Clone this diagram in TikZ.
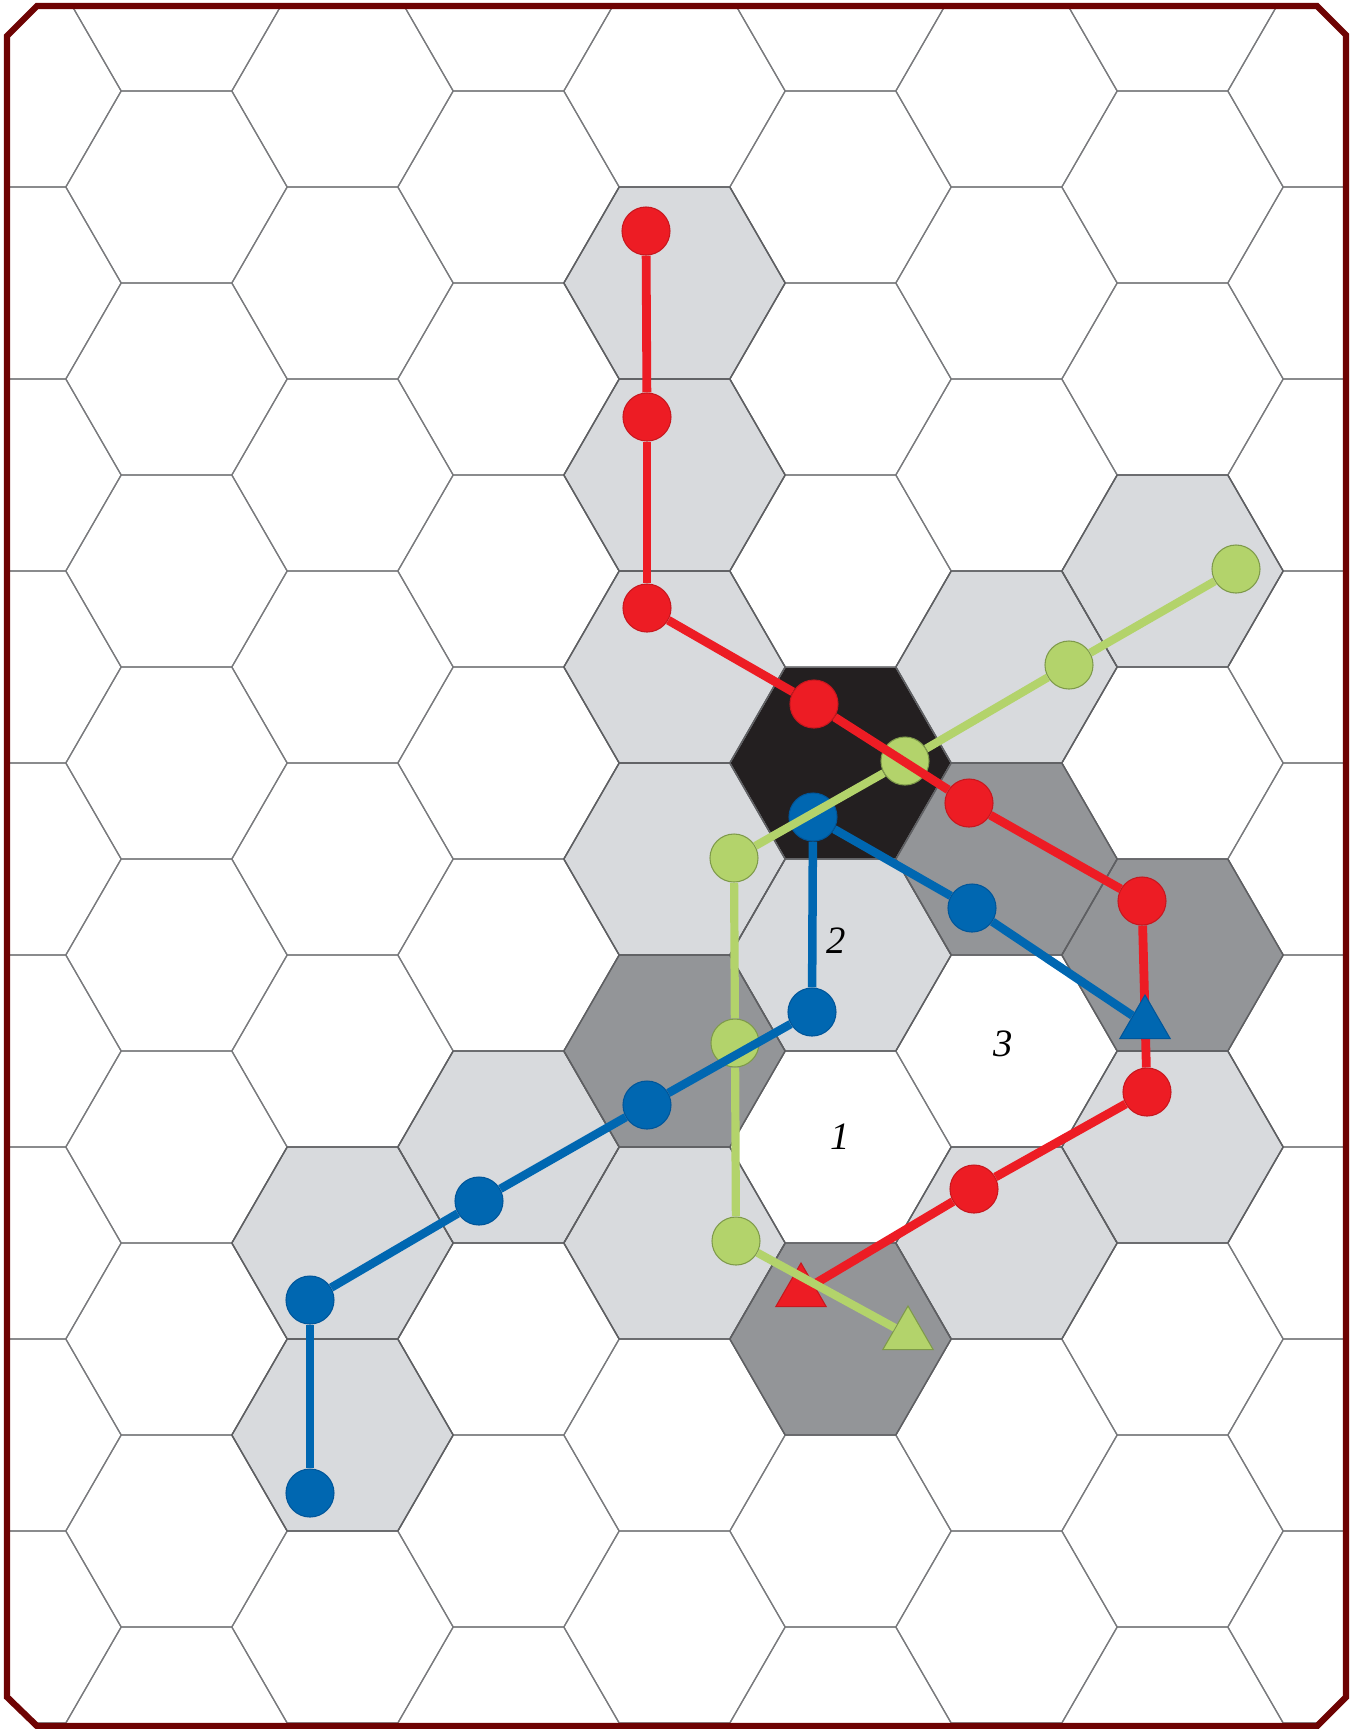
\documentclass[tikz,border=0pt]{standalone}
\usepackage{fontspec}
\setmainfont{Liberation Serif}
\usetikzlibrary{shapes.geometric}
\definecolor{pred}{HTML}{ED1C24}
\definecolor{predd}{HTML}{C8171E}
\definecolor{pblue}{HTML}{0067B1}
\definecolor{pblued}{HTML}{00569A}
\definecolor{pgreen}{HTML}{B3D36B}
\definecolor{pgreend}{HTML}{7E9A4A}
\definecolor{lgray}{HTML}{D8DADD}
\definecolor{dgray}{HTML}{939598}
\definecolor{hblack}{HTML}{231F20}
\definecolor{maroon}{HTML}{6E0303}
\definecolor{gridc}{HTML}{7A7B7E}
\definecolor{gridd}{HTML}{5E5F62}
\pgfdeclarelayer{grid}
\pgfdeclarelayer{behind}
\pgfsetlayers{grid,behind,main}
\newcommand{\hexcell}[3][]{%
  \pgfmathsetmacro\hexX{840.5+166*(#2)}%
  \pgfmathsetmacro\hexY{763+192*(#3)+96*mod(abs(#2),2)}%
  \path[#1] (\hexX+110.67,\hexY) -- (\hexX+55.33,\hexY+96) -- (\hexX-55.33,\hexY+96)
    -- (\hexX-110.67,\hexY) -- (\hexX-55.33,\hexY-96) -- (\hexX+55.33,\hexY-96) -- cycle;}
\tikzset{
  gridline/.style={draw=gridc, line width=0.35pt},
  lightcell/.style={fill=lgray},
  darkcell/.style={fill=dgray},
  blackcell/.style={fill=hblack},
  celledge/.style={draw=gridd, line width=0.4pt},
  framebox/.style={draw=maroon, line width=1.8pt, line join=miter},
  dot/.style={circle, inner sep=0pt, minimum size=0.48cm, line width=0.3pt},
  reddot/.style={dot, fill=pred, draw=predd},
  bluedot/.style={dot, fill=pblue, draw=pblued},
  greendot/.style={dot, fill=pgreen, draw=pgreend},
  tri/.style={regular polygon, regular polygon sides=3, inner sep=0pt, minimum size=0.58cm, line width=0.3pt},
  redline/.style={draw=pred, line width=0.088cm},
  blueline/.style={draw=pblue, line width=0.085cm},
  greenline/.style={draw=pgreen, line width=0.082cm},
  lbl/.style={font=\fontsize{11}{13}\selectfont\itshape, text=black, inner sep=0pt}
}
\begin{document}
\begin{tikzpicture}[x=0.01cm,y=-0.01cm]
\useasboundingbox (0,0) rectangle (1354,1729);
\begin{pgfonlayer}{grid}
\fill[white] (0,0) rectangle (1354,1729);
\begin{scope}
\clip (7,36) -- (37,6) -- (1317,6) -- (1346,35) -- (1346,1697) -- (1317,1726) -- (37,1726) -- (7,1697) -- cycle;
% shaded cells
\foreach \k/\m in {-1/-3,-1/-2,-1/-1,-1/0,-1/2,0/1,1/-1,1/2,2/-1,2/2,-2/2,-3/2,-3/3} {\hexcell[lightcell]{\k}{\m}}
\foreach \k/\m in {-1/1,0/3,1/0,2/1} {\hexcell[darkcell]{\k}{\m}}
\hexcell[blackcell]{0}{0}
% grid
\foreach \k in {-5,...,3} {\foreach \m in {-5,...,6} {\hexcell[gridline]{\k}{\m}}}
\foreach \k/\m in {-1/-3,-1/-2,-1/-1,-1/0,-1/2,0/1,1/-1,1/2,2/-1,2/2,-2/2,-3/2,-3/3,-1/1,0/3,1/0,2/1} {\hexcell[celledge]{\k}{\m}}
\end{scope}
\end{pgfonlayer}
% frame
\draw[framebox] (7,36) -- (37,6) -- (1317,6) -- (1346,35) -- (1346,1697) -- (1317,1726) -- (37,1726) -- (7,1697) -- cycle;
% labels
\node[lbl] (l2) at (836,941) {2};
\node[lbl] (l1) at (840,1137) {1};
\node[lbl] (l3) at (1003,1044) {3};
% red dots
\node[reddot] (r1) at (646,231) {};
\node[reddot] (r2) at (647,417) {};
\node[reddot] (r3) at (647,608) {};
\node[reddot] (r4) at (814,704) {};
\node[reddot] (r5) at (969,803) {};
\node[reddot] (r6) at (1142,901) {};
\node[reddot] (r7) at (1147,1092) {};
\node[reddot] (r8) at (974,1189) {};
\node[tri, fill=pred, draw=predd] (rt) at (801,1292) {};
% blue dots
\node[bluedot] (b1) at (310,1493) {};
\node[bluedot] (b2) at (310,1300) {};
\node[bluedot] (b3) at (479,1201) {};
\node[bluedot] (b4) at (647,1105) {};
\node[bluedot] (b5) at (812,1012) {};
\node[bluedot] (b6) at (813,817) {};
\node[bluedot] (b7) at (972,908) {};
\node[tri, fill=pblue, draw=pblued] (bt) at (1145,1024) {};
% green dots
\node[greendot] (g1) at (1236,569) {};
\node[greendot] (g2) at (1069,665) {};
\node[greendot] (g3) at (905,761) {};
\node[greendot] (g4) at (734,858) {};
\node[greendot] (g5) at (735,1043) {};
\node[greendot] (g6) at (736,1241) {};
\node[tri, fill=pgreen, draw=pgreend] (gt) at (908,1335) {};
% connectors, in stacking order
\begin{pgfonlayer}{behind}
\draw[redline] (r6) -- (r7);
\end{pgfonlayer}
\draw[redline] (r7) -- (r8);
\draw[redline] (r8) -- (rt);
\draw[greenline] (g4) -- (g5);
\draw[greenline] (g5) -- (g6);
\draw[greenline] (g6) -- (gt);
\draw[blueline] (b1) -- (b2);
\draw[blueline] (b2) -- (b3);
\draw[blueline] (b3) -- (b4);
\draw[blueline] (b4) -- (b5);
\draw[blueline] (b5) -- (b6);
\draw[blueline] (b6) -- (b7);
\draw[blueline] (b7) -- (bt);
\draw[greenline] (g1) -- (g2);
\draw[greenline] (g2) -- (g3);
\draw[greenline] (g3) -- (g4);
\draw[redline] (r1) -- (r2);
\draw[redline] (r2) -- (r3);
\draw[redline] (r3) -- (r4);
\draw[redline] (r4) -- (r5);
\draw[redline] (r5) -- (r6);
\end{tikzpicture}
\end{document}
